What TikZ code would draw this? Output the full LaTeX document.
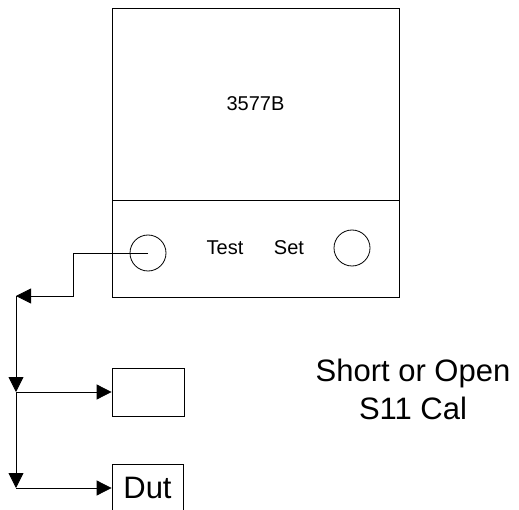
\documentclass[tikz,border=0pt]{standalone}
\usepackage{fontspec}
\setmainfont{Liberation Sans}
\usetikzlibrary{arrows.meta,positioning}

\tikzset{
  box/.style={draw,rectangle,inner sep=0pt},
  port/.style={draw,circle,minimum size=36pt,inner sep=0pt},
  bigtext/.style={font=\fontsize{31}{38}\selectfont}
}

\begin{document}
\begin{tikzpicture}[x=1pt,y=-1pt,>={Triangle[length=15pt,width=15pt]},
  line width=0.8pt,font=\fontsize{20}{24}\selectfont]
\clip (0,0) rectangle (519,510);
% analyser
\node[box,minimum width=287pt,minimum height=192pt] (screen) at (255.5,104) {3577B};
\node[box,minimum width=287pt,minimum height=97pt,below=0pt of screen] (panel) {};
\node[port] (test) at (148,253) {};
\node[port] (set) at (352,248) {};
\node (testlbl) at (225,248) {Test};
\node (setlbl) at (289,248) {Set};
% standard and device
\node[box,minimum width=72pt,minimum height=48pt] (std) at (148,392) {};
\node[box,bigtext,minimum width=71pt,minimum height=48pt] (dut) at (147.5,488) {Dut};
\node[bigtext,align=center] (cal) at (413,389) {Short or Open\\S11 Cal};
% cable
\coordinate (bend) at (73,296);
\coordinate (split) at (16,296);
\coordinate (tap1) at (16,392);
\coordinate (tap2) at (16,488);
\draw[->] (test.center) -| (bend) -- (split);
\draw[->] (split) -- (tap1);
\draw[->] (tap1) -- (tap2);
\draw[->] (tap1) -- (std.west);
\draw[->] (tap2) -- (dut.west);
\end{tikzpicture}
\end{document}
